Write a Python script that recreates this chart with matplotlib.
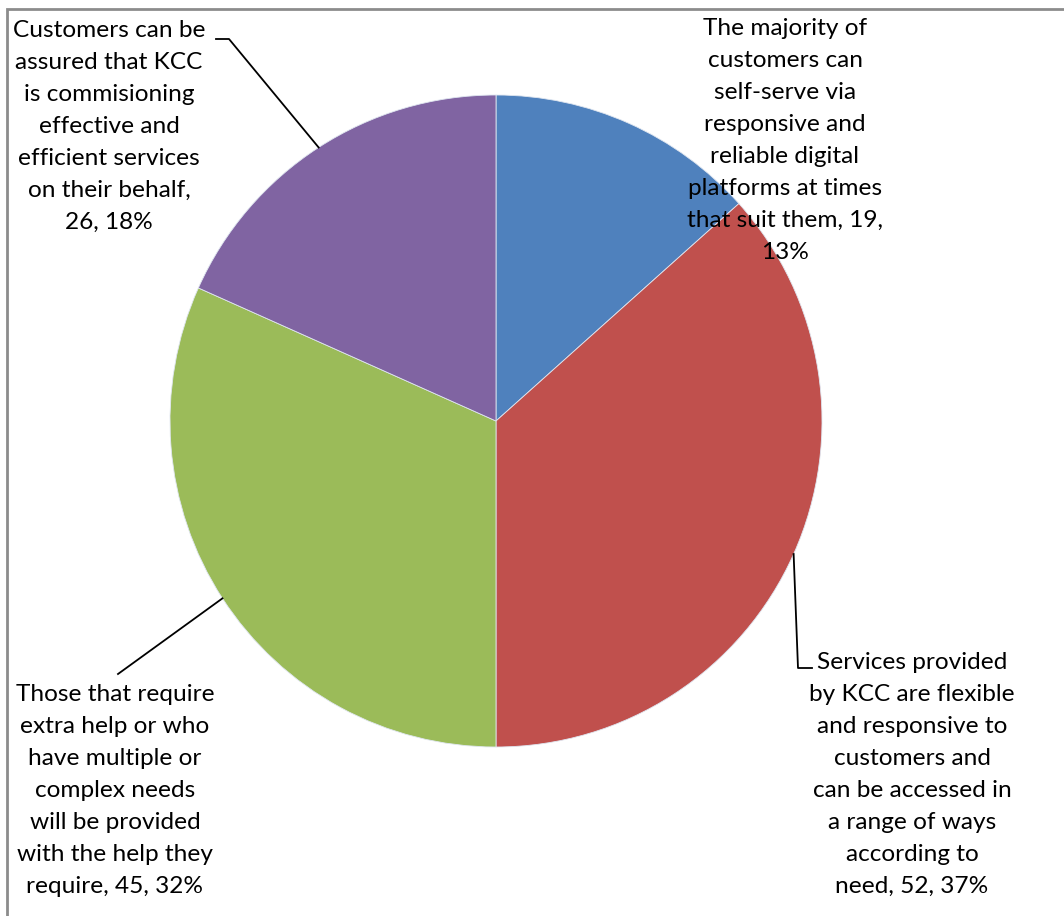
import numpy as np
import matplotlib.pyplot as plt
from matplotlib.patches import Rectangle

# Categories and counts
labels = [
    "The majority of\ncustomers can\nself-serve via\nresponsive and\nreliable digital\nplatforms at times\nthat suit them, 19,\n13%",
    "Services provided\nby KCC are flexible\nand responsive to\ncustomers and\ncan be accessed in\na range of ways\naccording to\nneed, 52, 37%",
    "Those that require\nextra help or who\nhave multiple or\ncomplex needs\nwill be provided\nwith the help they\nrequire, 45, 32%",
    "Customers can be\nassured that KCC\nis commisioning\neffective and\nefficient services\non their behalf,\n26, 18%",
]
values = [19, 52, 45, 26]
colors = ["#4F81BD", "#C0504D", "#9BBB59", "#8064A2"]

W, H = 1064, 916
fig = plt.figure(figsize=(W / 100, H / 100), dpi=100)
ax = fig.add_axes([0, 0, 1, 1])

cx, cy, r = 496, H - 421, 326
wedges, _ = ax.pie(values, colors=colors, startangle=90, counterclock=False,
                   center=(cx, cy), radius=r, frame=True,
                   wedgeprops=dict(edgecolor="#dfe6f0", linewidth=0.6))
ax.set_xlim(0, W)
ax.set_ylim(0, H)
ax.set_aspect("equal")
ax.axis("off")

# outer chart frame
ax.add_patch(Rectangle((7, -20), W + 40, H - 9 + 20, fill=False,
                       edgecolor="#8c8c8c", linewidth=2, clip_on=False))

font = dict(family="Lato", fontsize=17.6, color="black", ha="center",
            va="top", linespacing=1.645)

# label anchor (top centre of the text block) in pixel units
text_pos = [(785, 18), (912, 652), (115, 684), (109, 20)]
for lab, (tx, ty) in zip(labels, text_pos):
    ax.text(tx, H - ty, lab, **font)


def mid_point(w):
    ang = np.deg2rad((w.theta1 + w.theta2) / 2)
    return cx + r * np.cos(ang), cy + r * np.sin(ang)


# leader lines
lk = dict(color="black", linewidth=1.3)
x0, y0 = mid_point(wedges[1])
ax.plot([x0, 798, 812], [y0, H - 668, H - 668], **lk)
x0, y0 = mid_point(wedges[2])
ax.plot([x0, 118], [y0, H - 674], **lk)
x0, y0 = mid_point(wedges[3])
ax.plot([x0, 229, 216], [y0, H - 39, H - 39], **lk)

fig.savefig("out.png", dpi=100, facecolor="white")
